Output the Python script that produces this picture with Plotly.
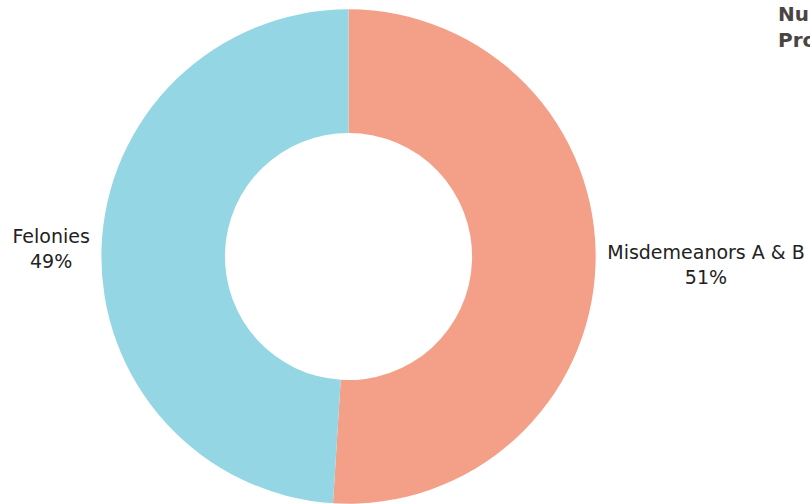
import plotly.graph_objects as go

labels = ["Misdemeanors A & B", "Felonies"]
values = [51, 49]
colors = ["#F4A088", "#94D6E3"]
title_text = "Number of Cases<br>Prosecuted by Type"

W, H = 810, 512
cx, r = 361, 256
top = 8
fig = go.Figure(go.Pie(
    labels=labels, values=values, hole=0.5, sort=False, direction="clockwise",
    rotation=0, marker=dict(colors=colors, line=dict(width=0)),
    textposition="outside", textinfo="label+percent",
    texttemplate="%{label}<br>%{percent:.0%}",
    textfont=dict(family="DejaVu Sans", size=19, color="#222222"),
    showlegend=False,
    domain=dict(x=[(cx - r) / W, (cx + r) / W], y=[0, 1]),
))
fig.update_layout(
    width=W, height=H,
    margin=dict(l=0, r=0, t=top, b=0),
    paper_bgcolor="white", plot_bgcolor="white",
    title=dict(text="<b>" + title_text + "</b>", x=778 / W, xanchor="left",
               xref="container", yref="container", y=(H - 21) / H, yanchor="top",
               pad=dict(t=0, l=0),
               font=dict(family="DejaVu Sans", size=20, color="#4a4543")),
)
fig.write_html("out.html", config=dict(displayModeBar=False),
               post_script="document.body.style.margin='0';document.body.style.overflow='hidden';")
